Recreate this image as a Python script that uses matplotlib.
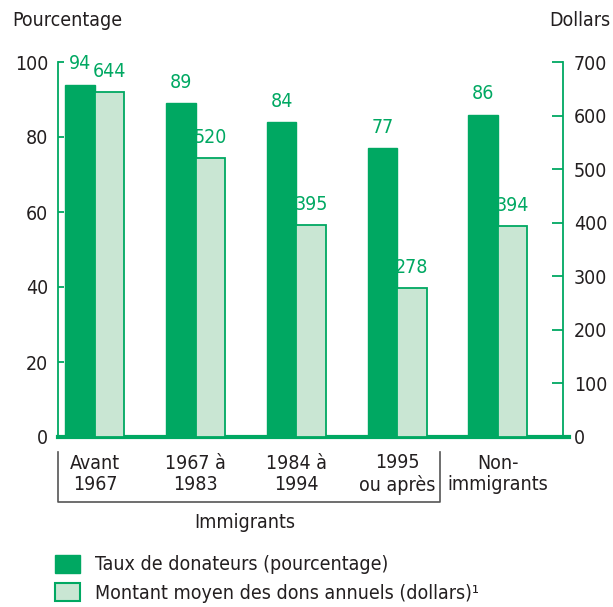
import matplotlib
matplotlib.use("Agg")
import matplotlib.pyplot as plt
from matplotlib.patches import Patch
from matplotlib.lines import Line2D
from matplotlib.transforms import blended_transform_factory

# data
categories = ["Avant\n1967", "1967 à\n1983", "1984 à\n1994", "1995\nou après", "Non-\nimmigrants"]
taux = [94, 89, 84, 77, 86]
montant = [644, 520, 395, 278, 394]
left_ticks = [0, 20, 40, 60, 80, 100]
right_ticks = [0, 100, 200, 300, 400, 500, 600, 700]

DARK = "#00A862"
LIGHT = "#C9E6D3"
TEXT = "#231F20"

plt.rcParams['font.family'] = ['DejaVu Sans']
plt.rcParams['font.stretch'] = 'condensed'
FS = 14

W, H = 613, 607
fig = plt.figure(figsize=(W / 100, H / 100), dpi=100)

def fx(px):
    return px / W

def fy(py):
    return 1 - py / H

ax = fig.add_axes([fx(58), fy(437), fx(569) - fx(58), fy(62) - fy(437)])
ax2 = ax.twinx()

x = list(range(len(categories)))
bw = 0.293
ax.bar([i - bw / 2 for i in x], taux, width=bw, color=DARK, edgecolor=DARK, linewidth=1)
ax2.bar([i + bw / 2 for i in x], montant, width=bw, color=LIGHT, edgecolor=DARK, linewidth=1.3)

for i, v in enumerate(taux):
    ax.text(i - bw / 2, v + 3, str(v), ha="center", va="bottom", color=DARK, fontsize=FS)
for i, v in enumerate(montant):
    ax2.text(i + bw / 2, v + 21, str(v), ha="center", va="bottom", color=DARK, fontsize=FS)

ax.set_xlim(-0.367, 4.705)
ax.set_ylim(0, 100)
ax2.set_ylim(0, 700)
ax.set_xticks([])

for s in ["top", "right"]:
    ax.spines[s].set_visible(False)
for s in ["top", "left", "bottom"]:
    ax2.spines[s].set_visible(False)
ax.spines["left"].set_color(DARK)
ax.spines["left"].set_linewidth(1.3)
ax.spines["bottom"].set_color(DARK)
ax.spines["bottom"].set_linewidth(3)
ax2.spines["right"].set_position(("data", 4.645))
ax2.spines["right"].set_color(DARK)
ax2.spines["right"].set_linewidth(1.3)

ax.set_yticks(left_ticks)
ax2.set_yticks(right_ticks)
ax.tick_params(axis="y", direction="in", length=4, width=1.3, color=DARK,
               labelcolor=TEXT, labelsize=FS, pad=7)
ax2.tick_params(axis="y", direction="in", length=8, width=1.3, color=DARK,
                labelcolor=TEXT, labelsize=FS, pad=8)

fig.text(fx(12), fy(20), "Pourcentage", ha="left", va="center", color=TEXT, fontsize=FS)
fig.text(fx(610), fy(20), "Dollars", ha="right", va="center", color=TEXT, fontsize=FS)

# category labels
tr = blended_transform_factory(ax.transData, fig.transFigure)
for i, c in enumerate(categories):
    fig.text(i, fy(474), c, transform=tr, ha="center", va="center", color=TEXT,
             fontsize=FS, linespacing=1.15)

# immigrants bracket
fig.add_artist(Line2D([fx(58), fx(58), fx(440), fx(440)], [fy(452), fy(502), fy(502), fy(452)],
                      color="#555555", linewidth=1.2))
fig.text(fx(245), fy(523), "Immigrants", ha="center", va="center", color=TEXT, fontsize=FS)

handles = [Patch(facecolor=DARK, edgecolor=DARK),
           Patch(facecolor=LIGHT, edgecolor=DARK, linewidth=1.5)]
labels = ["Taux de donateurs (pourcentage)", "Montant moyen des dons annuels (dollars)¹"]
fig.legend(handles, labels, loc="upper left", bbox_to_anchor=(fx(37), fy(537)), frameon=False,
           fontsize=FS, labelcolor=TEXT, handlelength=1.3, handleheight=1.05,
           handletextpad=0.8, labelspacing=0.45)

fig.savefig("out.png", dpi=100)
